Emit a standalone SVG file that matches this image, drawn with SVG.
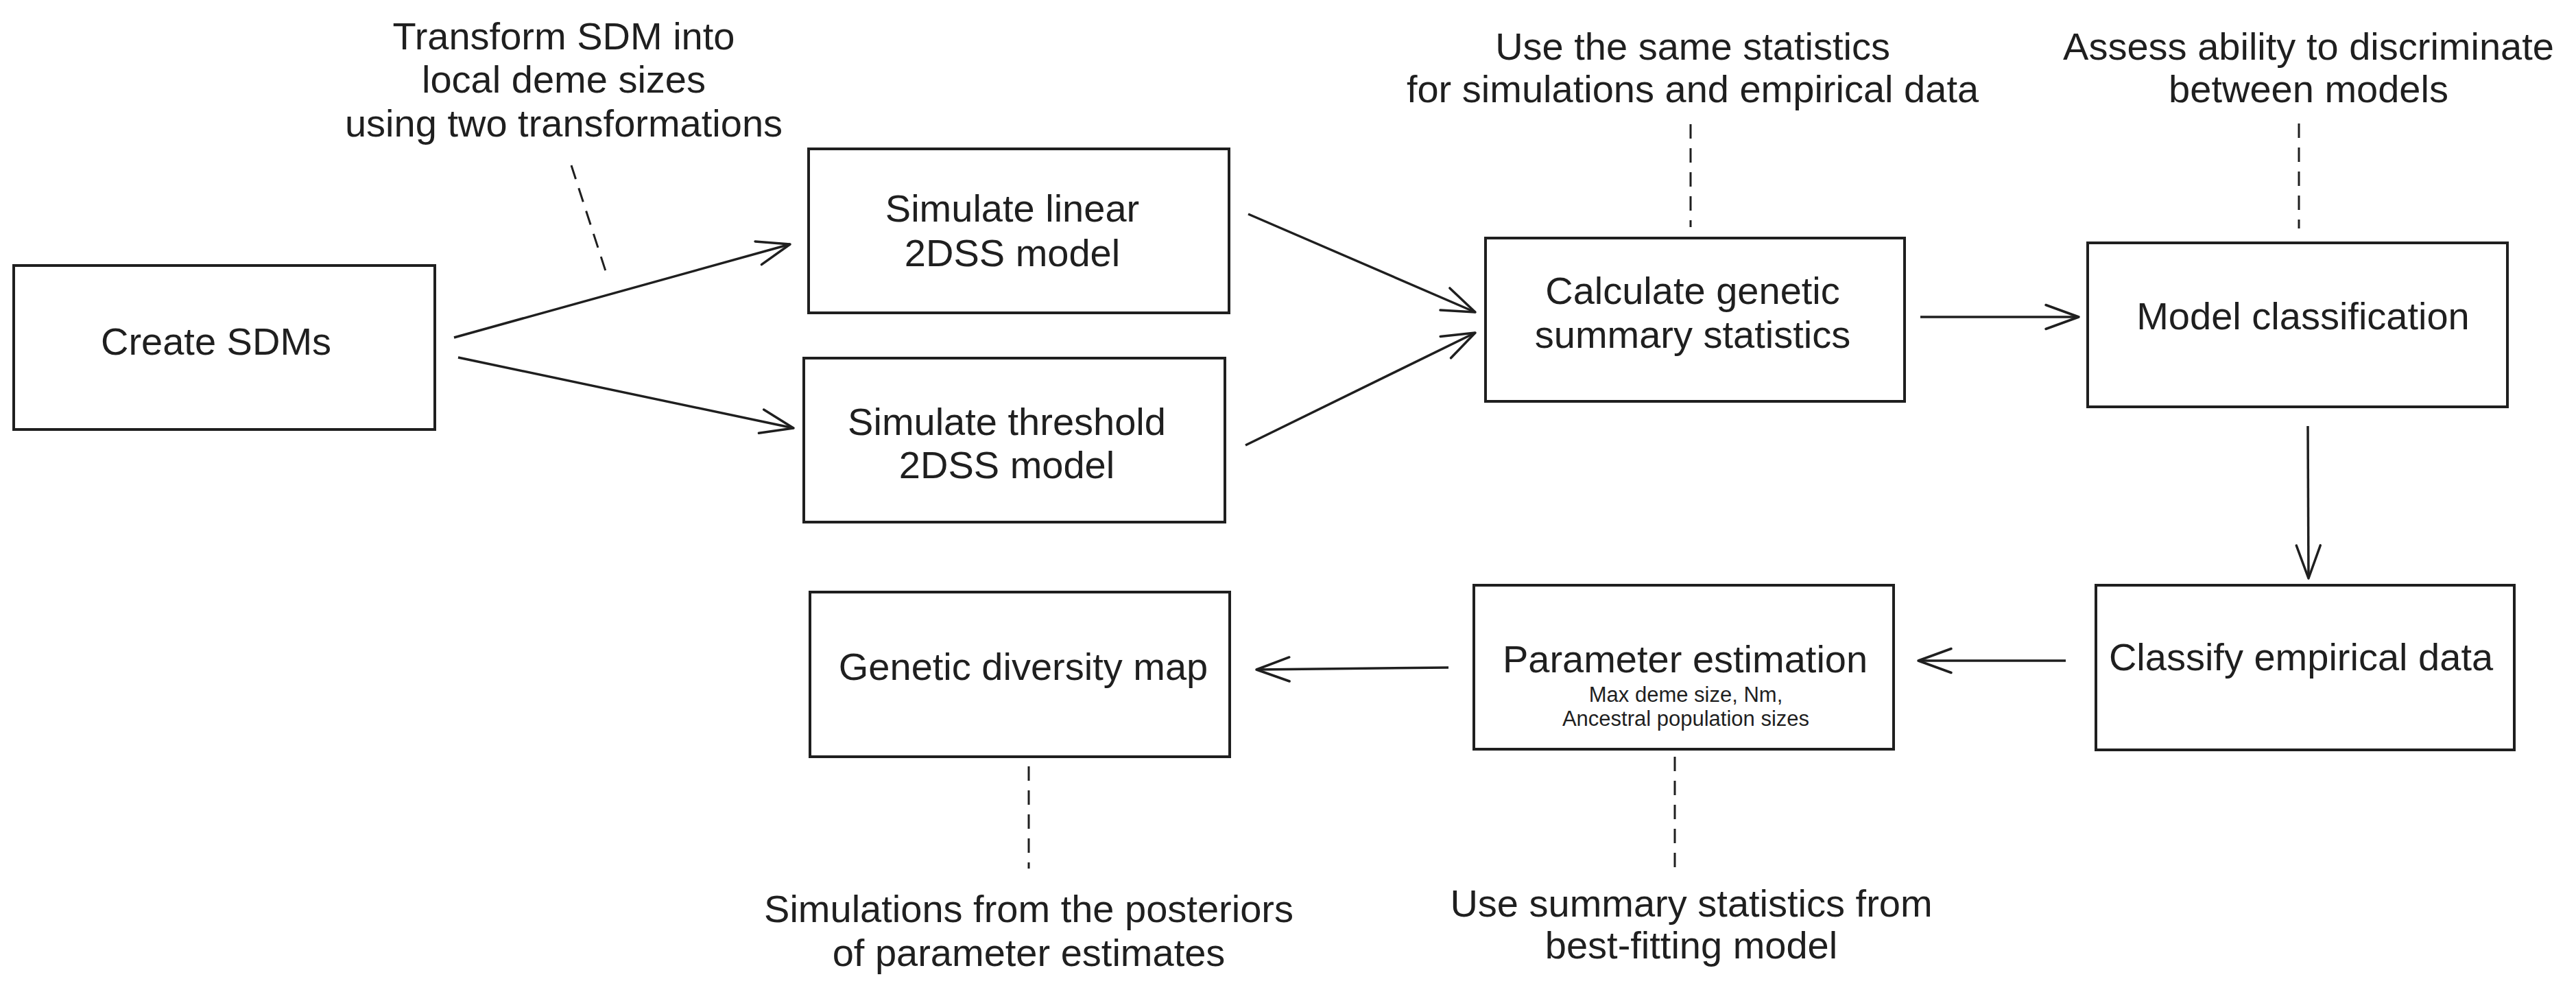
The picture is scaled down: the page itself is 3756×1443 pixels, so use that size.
<svg xmlns="http://www.w3.org/2000/svg" width="3756" height="1443" viewBox="0 0 3756 1443">
<style>
.box{fill:#fff;stroke:#1f1f1f;stroke-width:4}
.t{font-family:"Liberation Sans",Arial,Helvetica,sans-serif;font-size:56px;fill:#1f1f1f;text-anchor:middle}
.s{font-size:31px}
.conn{stroke:#1f1f1f;stroke-width:3.5;fill:none;marker-end:url(#ah)}
.dash{stroke:#1f1f1f;stroke-width:3;fill:none;stroke-dasharray:21 14}
</style>
<defs>
<marker id="ah" markerUnits="userSpaceOnUse" viewBox="-52 -22 56 44" refX="0" refY="0" markerWidth="56" markerHeight="44" orient="auto" overflow="visible">
<path d="M-48,-17.5 L0,0 L-48,17.5" fill="none" stroke="#1f1f1f" stroke-width="3.5" stroke-linecap="round" stroke-linejoin="round"/>
</marker>
</defs>
<rect width="3756" height="1443" fill="#fff"/>

<g id="connectors">
<line class="conn" x1="662" y1="492" x2="1152" y2="356"/>
<line class="conn" x1="668" y1="521" x2="1157" y2="624"/>
<line class="conn" x1="1820" y1="312" x2="2151" y2="455"/>
<line class="conn" x1="1816" y1="649" x2="2151" y2="485"/>
<line class="conn" x1="2800" y1="462" x2="3031" y2="462"/>
<line class="conn" x1="3365" y1="621" x2="3366" y2="843"/>
<line class="conn" x1="3012" y1="963" x2="2797" y2="963"/>
<line class="conn" x1="2112" y1="973" x2="1832" y2="976"/>
<line class="dash" x1="833" y1="241" x2="883" y2="395"/>
<line class="dash" x1="2465" y1="181" x2="2465" y2="331"/>
<line class="dash" x1="3352" y1="180" x2="3352" y2="333"/>
<line class="dash" x1="2442" y1="1103" x2="2442" y2="1266"/>
<line class="dash" x1="1500" y1="1117" x2="1500" y2="1266"/>
</g>

<g id="create-sdms">
<rect class="box" x="20" y="387" width="614" height="239"/>
<text class="t" x="315" y="517">Create SDMs</text>
</g>

<g id="simulate-linear">
<rect class="box" x="1179" y="217" width="613" height="239"/>
<text class="t" x="1476" y="323">Simulate linear</text>
<text class="t" x="1476" y="388">2DSS model</text>
</g>

<g id="simulate-threshold">
<rect class="box" x="1172" y="522" width="614" height="239"/>
<text class="t" x="1468" y="634">Simulate threshold</text>
<text class="t" x="1468" y="697">2DSS model</text>
</g>

<g id="calculate-stats">
<rect class="box" x="2166" y="347" width="611" height="238"/>
<text class="t" x="2468" y="443">Calculate genetic</text>
<text class="t" x="2468" y="507">summary statistics</text>
</g>

<g id="model-classification">
<rect class="box" x="3044" y="354" width="612" height="239"/>
<text class="t" x="3358" y="480">Model classification</text>
</g>

<g id="classify-empirical">
<rect class="box" x="3056" y="853" width="610" height="240"/>
<text class="t" x="3355" y="977">Classify empirical data</text>
</g>

<g id="parameter-estimation">
<rect class="box" x="2149" y="853" width="612" height="239"/>
<text class="t" x="2457" y="980">Parameter estimation</text>
<text class="t s" x="2458" y="1023">Max deme size, Nm,</text>
<text class="t s" x="2458" y="1058">Ancestral population sizes</text>
</g>

<g id="genetic-diversity-map">
<rect class="box" x="1181" y="863" width="612" height="240"/>
<text class="t" x="1492" y="991">Genetic diversity map</text>
</g>

<g id="note-transform">
<text class="t" x="822" y="72">Transform SDM into</text>
<text class="t" x="822" y="135">local deme sizes</text>
<text class="t" x="822" y="199">using two transformations</text>
</g>

<g id="note-same-stats">
<text class="t" x="2468" y="87">Use the same statistics</text>
<text class="t" x="2468" y="149">for simulations and empirical data</text>
</g>

<g id="note-assess">
<text class="t" x="3366" y="87">Assess ability to discriminate</text>
<text class="t" x="3366" y="149">between models</text>
</g>

<g id="note-simulations">
<text class="t" x="1500" y="1344">Simulations from the posteriors</text>
<text class="t" x="1500" y="1408">of parameter estimates</text>
</g>

<g id="note-summary">
<text class="t" x="2466" y="1336">Use summary statistics from</text>
<text class="t" x="2466" y="1397">best-fitting model</text>
</g>
</svg>
